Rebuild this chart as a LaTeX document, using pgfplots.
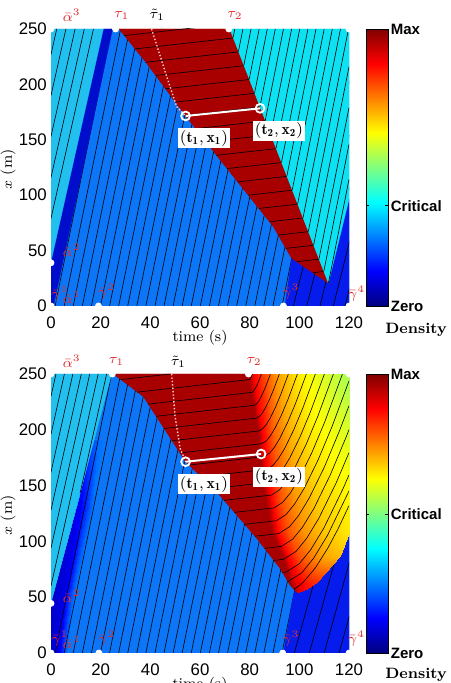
\documentclass[border=0pt]{standalone}
\usepackage{pgfplots}
\pgfplotsset{compat=1.18}
\usepackage{fontspec}
\setsansfont{Liberation Sans}
\definecolor{medblue}{RGB}{12,118,246}
\definecolor{cyanL}{RGB}{34,192,238}
\definecolor{cyanR}{RGB}{14,226,242}
\definecolor{bandblue}{RGB}{0,14,204}
\definecolor{dblue}{RGB}{6,28,236}
\definecolor{dred}{RGB}{168,0,0}
\definecolor{lblred}{RGB}{225,45,45}
\definecolor{dotpink}{RGB}{255,205,205}
\tikzset{lbl/.style={text=lblred, font=\fontsize{7}{8}\selectfont}}
\pgfplotsset{
 mainax/.style={
  scale only axis, width=149pt, anchor=south west,
  xmin=0,xmax=120,ymin=0,ymax=250,
  xtick={0,20,40,60,80,100,120}, ytick={0,50,100,150,200,250},
  axis line style={draw=none}, tick style={draw=none}, major tick length=0pt,
  /pgf/number format/assume math mode=true,
  tick label style={font=\fontsize{8.4}{9}\selectfont\sffamily},
  xticklabel style={yshift=-2pt},
  yticklabel style={xshift=1.45pt},
  clip mode=individual,
  colormap/jet, point meta min=0, point meta max=1,
  colorbar,
  xlabel={time (s)}, ylabel={$x$ (m)},
  label style={font=\fontsize{7.5}{9}\selectfont},
  xlabel style={at={(axis description cs:0.5,-0.115)}, anchor=center},
  ylabel style={at={(axis description cs:-0.144,0.493)}, anchor=center},
 },
 cbstyle/.style={width=11pt, at={(parent axis.north east)}, anchor=north west,
  xlabel={}, ylabel={}, xtick=\empty,
  yticklabels={Zero,Critical,Max},
  yticklabel style={font=\fontsize{7.5}{8}\selectfont\sffamily\bfseries, inner sep=1.2pt},
  axis line style={draw=black, line width=0.3pt},
  tick style={draw=black, line width=0.3pt}, major tick length=1.5pt},
 ch/.style={black, line width=0.3pt, unbounded coords=jump, forget plot},
 reg/.style={fill=#1, draw=#1, line width=0.1pt, forget plot},
 wdot/.style={only marks, mark=*, mark size=1.5pt, mark options={draw=white,fill=white}, forget plot},
}
\begin{document}
\begin{tikzpicture}
\useasboundingbox (0,0) rectangle (225pt,341.5pt);
% ================= TOP =================
\begin{axis}[mainax, height=138.5pt, at={(25.5pt,188.5pt)},
 colorbar style={cbstyle, ytick={0,0.362,1}}]
\addplot[reg=medblue] coordinates {(0,0)(120,0)(120,250)(0,250)} -- cycle;
\addplot[ch] coordinates {
(1.65,0)(24.38,250)(nan,nan)(5.31,0)(28.04,250)(nan,nan)(8.96,0)(31.69,250)(nan,nan)
(12.62,0)(35.35,250)(nan,nan)(16.27,0)(39.0,250)(nan,nan)(19.93,0)(42.66,250)(nan,nan)
(23.58,0)(46.31,250)(nan,nan)(27.24,0)(49.97,250)(nan,nan)(30.89,0)(53.62,250)(nan,nan)
(34.55,0)(57.28,250)(nan,nan)(38.2,0)(60.93,250)(nan,nan)(41.86,0)(64.59,250)(nan,nan)
(45.51,0)(68.24,250)(nan,nan)(49.17,0)(71.9,250)(nan,nan)(52.82,0)(75.55,250)(nan,nan)
(56.48,0)(79.21,250)(nan,nan)(60.13,0)(82.86,250)(nan,nan)(63.79,0)(86.52,250)(nan,nan)
(67.44,0)(90.17,250)(nan,nan)(71.1,0)(93.83,250)(nan,nan)(74.75,0)(97.48,250)(nan,nan)
(78.41,0)(101.14,250)(nan,nan)(82.06,0)(104.79,250)(nan,nan)(85.72,0)(108.45,250)(nan,nan)
(89.37,0)(112.1,250)(nan,nan)(93.03,0)(115.76,250)};
\addplot[reg=bandblue] coordinates {(0,0)(0,40)(21.1,250)(24.8,250)(1,0)} -- cycle;
\addplot[reg=cyanL] coordinates {(0,40)(0,250)(21.1,250)} -- cycle;
\addplot[ch] coordinates {(0,227)(2.3,250)(nan,nan)(0,190)(6,250)(nan,nan)(0,153)(9.7,250)(nan,nan)(0,116)(13.4,250)(nan,nan)(0,79)(17.1,250)};
\addplot[reg=dblue] coordinates {(94.2,0)(120,0)(120,96)(111.7,20.5)(96.9,43)} -- cycle;
\addplot[ch] coordinates {(97.6,0)(125.4,250)(nan,nan)(103,0)(130.8,250)(nan,nan)(108.3,0)(136.1,250)(nan,nan)(113.7,0)(141.5,250)(nan,nan)(118.4,0)(146.2,250)};
\addplot[reg=dred] coordinates {(27.4,250)(72,250)(111.7,20.5)(96.9,43)(89.5,71.6)(78.8,101.7)(68.1,131.8)(54.2,171.5)(38.5,219)} -- cycle;
\addplot[ch] coordinates {
(29.5,244)(73.0,254.9)(nan,nan)(33.8,232)(75.1,242.3)(nan,nan)(38.1,220)(77.2,229.8)(nan,nan)
(42.1,208)(79.3,217.3)(nan,nan)(46.1,196)(81.3,204.8)(nan,nan)(50.1,184)(83.4,192.3)(nan,nan)
(54.0,172)(85.5,179.9)(nan,nan)(58.2,160)(87.6,167.4)(nan,nan)(62.4,148)(89.6,154.8)(nan,nan)
(66.6,136)(91.7,142.3)(nan,nan)(70.9,124)(93.8,129.7)(nan,nan)(75.1,112)(95.9,117.2)(nan,nan)
(79.4,100)(98.0,104.7)(nan,nan)(83.7,88)(100.0,92.1)(nan,nan)(87.9,76)(102.1,79.6)(nan,nan)
(91.5,64)(104.2,67.2)(nan,nan)(94.6,52)(106.3,54.9)(nan,nan)(98.9,40)(108.3,42.4)(nan,nan)
(105.5,30)(110.1,31.2)};
\addplot[reg=cyanR] coordinates {(72,250)(120,250)(120,96)(111.7,20.5)} -- cycle;
\addplot[ch] coordinates {
(73.33,242.3)(74.01,250)(nan,nan)(75.49,229.8)(77.28,250)(nan,nan)(77.66,217.3)(80.55,250)(nan,nan)
(79.82,204.8)(83.82,250)(nan,nan)(81.98,192.3)(87.09,250)(nan,nan)(84.13,179.9)(90.33,250)(nan,nan)
(86.29,167.4)(93.6,250)(nan,nan)(88.47,154.8)(96.89,250)(nan,nan)(90.63,142.3)(100.16,250)(nan,nan)
(92.81,129.7)(103.46,250)(nan,nan)(94.97,117.2)(106.72,250)(nan,nan)(97.14,104.7)(110.0,250)(nan,nan)
(99.32,92.1)(113.29,250)(nan,nan)(101.48,79.6)(116.56,250)(nan,nan)(103.62,67.2)(119.8,250)(nan,nan)
(105.75,54.9)(120,215.9)(nan,nan)(107.91,42.4)(120,179.0)(nan,nan)(109.85,31.2)(120,145.9)(nan,nan)
(111.7,20.5)(120,114.3)};
\addplot[dotpink, densely dotted, line width=0.7pt, forget plot] coordinates {(40.5,250)(46.6,207)(50.6,180)(54.2,171.5)};
\addplot[white, line width=1pt, forget plot] coordinates {(54.2,171.5)(84.2,178.4)};
\addplot[only marks, mark=o, mark size=2.2pt, mark options={white, line width=0.9pt}, forget plot] coordinates {(54.2,171.5)(84.2,178.4)};
\addplot[wdot] coordinates {(0,0)(0,250)(120,250)(120,0)(0,39)(26,250)(71.6,250)(19.1,0)(93.6,0)};
\node[fill=white, inner sep=1pt, font=\fontsize{7.8}{9}\selectfont] at (axis cs:61.6,151.2) {$\mathbf{(t_1, x_1)}$};
\node[fill=white, inner sep=1pt, font=\fontsize{7.8}{9}\selectfont] at (axis cs:91.8,158) {$\mathbf{(t_2, x_2)}$};
\node[lbl] at (axis cs:8.3,262.6) {$\bar\alpha^3$};
\node[lbl] at (axis cs:28.5,262.6) {$\tau_1$};
\node[font=\fontsize{7}{8}\selectfont] at (axis cs:42.8,262.6) {$\tilde\tau_1$};
\node[lbl] at (axis cs:74.1,262.6) {$\tau_2$};
\node[lbl] at (axis cs:8.3,50.5) {$\bar\alpha^2$};
\node[lbl] at (axis cs:3.6,11.5) {$\bar\gamma^1$};
\node[lbl] at (axis cs:8.3,7.5) {$\bar\alpha^1$};
\node[lbl] at (axis cs:22.4,12.9) {$\bar\gamma^2$};
\node[lbl] at (axis cs:96.6,12.9) {$\bar\gamma^3$};
\node[lbl] at (axis cs:123.1,11.5) {$\bar\gamma^4$};
\node[font=\fontsize{7.5}{9}\selectfont\bfseries] at (axis cs:147,-21.7) {Density};
\end{axis}
% ================= BOTTOM =================
\begin{axis}[mainax, height=139.5pt, at={(25.5pt,15pt)},
 colorbar style={cbstyle, ytick={0,0.498,1}}]
\addplot[reg=medblue] coordinates {(0,0)(120,0)(120,250)(0,250)} -- cycle;
\addplot[surf, shader=interp, mesh/cols=3, mesh/rows=4, point meta=explicit, forget plot] table[x index=0, y index=1, meta index=2] {
0 0 0.08
3 0 0.10
6.5 0 0.243
0 44.5 0.07
5 44.5 0.10
9 44.5 0.243
10.3 131 0.10
13.3 131 0.15
17 131 0.243
17.5 191 0.21
19 191 0.23
21 191 0.243
};
\addplot[ch] coordinates {
(1.65,0)(24.38,250)(nan,nan)(5.31,0)(28.04,250)(nan,nan)(8.96,0)(31.69,250)(nan,nan)
(12.62,0)(35.35,250)(nan,nan)(16.27,0)(39.0,250)(nan,nan)(19.93,0)(42.66,250)(nan,nan)
(23.58,0)(46.31,250)(nan,nan)(27.24,0)(49.97,250)(nan,nan)(30.89,0)(53.62,250)(nan,nan)
(34.55,0)(57.28,250)(nan,nan)(38.2,0)(60.93,250)(nan,nan)(41.86,0)(64.59,250)(nan,nan)
(45.51,0)(68.24,250)(nan,nan)(49.17,0)(71.9,250)(nan,nan)(52.82,0)(75.55,250)(nan,nan)
(56.48,0)(79.21,250)(nan,nan)(60.13,0)(82.86,250)(nan,nan)(63.79,0)(86.52,250)(nan,nan)
(67.44,0)(90.17,250)(nan,nan)(71.1,0)(93.83,250)(nan,nan)(74.75,0)(97.48,250)(nan,nan)
(78.41,0)(101.14,250)(nan,nan)(82.06,0)(104.79,250)(nan,nan)(85.72,0)(108.45,250)(nan,nan)
(89.37,0)(112.1,250)(nan,nan)(93.03,0)(115.76,250)};
\addplot[reg=cyanL] coordinates {(0,44.5)(0,250)(24.4,250)} -- cycle;
\addplot[ch] coordinates {(0,230)(2.0,250)(nan,nan)(0,196)(5.4,250)(nan,nan)(0,162)(8.8,250)(nan,nan)(0,128)(12.2,250)(nan,nan)(0,94)(15.6,250)(nan,nan)(0,60)(19.0,250)(nan,nan)(11.7,143)(22.4,250)};
\addplot[reg=dblue] coordinates {(93.6,0)(120,0)(120,112)(100,66)(97.6,52)} -- cycle;
\addplot[ch] coordinates {(98,0)(129.25,250)(nan,nan)(104,0)(135.25,250)(nan,nan)(110,0)(141.25,250)(nan,nan)(116,0)(147.25,250)};
\addplot[reg=dred] coordinates {(25.1,250)(37.2,229.7)(54.2,171.4)(66.7,144.5)(82.8,102.8)(92.2,75.9)(96.2,60.9)(98.5,55.3)(96.8,64)(93.5,86)(89,108)(85.5,150)(83.3,200)(79.5,250)} -- cycle;
\addplot[surf, shader=interp, mesh/cols=6, mesh/rows=7, point meta=explicit, forget plot] table[x index=0, y index=1, meta index=2] {
79.5 250 0.96
81.5 250 0.875
86 250 0.80
91 250 0.72
100 250 0.64
120 250 0.54
83.3 200 0.96
85 200 0.875
89.5 200 0.78
95 200 0.71
103 200 0.65
120 200 0.585
85.5 150 0.96
87.7 150 0.875
92 150 0.79
98 150 0.72
106 150 0.67
120 150 0.625
89 108 0.96
91.2 108 0.875
96 108 0.79
102 108 0.73
110 108 0.68
120 107.5 0.645
93.5 86 0.96
95.5 86 0.875
100 86 0.80
105 86 0.75
110.5 86.3 0.71
116.3 87 0.69
96.8 64 0.95
98.5 63 0.90
100.5 62 0.88
102.5 62 0.86
104.8 62.5 0.84
107 64 0.83
98.5 55.3 0.93
99.2 54.6 0.92
100 54.8 0.90
101 55.4 0.88
102 56.2 0.87
103 57 0.86
};
\addplot[ch] coordinates {
(28.1,245)(48.1,250)(nan,nan)
(34.6,233.7)(79.93,245.0)(80.35,246.1)(81.08,250)(nan,nan)
(39.15,223.0)(80.91,233.5)(81.40,234.2)(82.32,237.2)(83.03,240.4)(83.73,244.1)(84.70,250)(nan,nan)
(42.3,212.1)(81.89,222.0)(82.73,223.2)(83.45,225.1)(84.29,228.2)(85.48,233.7)(86.68,240.0)(88.33,250)(nan,nan)
(45.5,201.2)(82.88,210.5)(84.06,212.2)(85.07,214.9)(86.25,219.3)(87.94,227.0)(89.63,236.0)(91.96,250)(nan,nan)
(48.7,190.2)(83.86,199.0)(85.38,201.2)(86.69,204.7)(88.22,210.3)(90.40,220.2)(92.58,231.9)(95.58,250)(nan,nan)
(51.9,179.3)(84.84,187.5)(86.71,190.1)(88.31,194.5)(90.18,201.4)(92.86,213.5)(95.53,227.8)(99.21,250)(nan,nan)
(55.6,168.4)(85.82,176.0)(88.04,179.1)(89.94,184.3)(92.15,192.4)(95.31,206.8)(98.48,223.7)(102.84,250)(nan,nan)
(60.4,158.0)(86.81,164.5)(89.37,168.1)(91.56,174.1)(94.12,183.4)(97.77,200.1)(101.42,219.6)(106.47,250)(nan,nan)
(65.4,147.4)(87.79,153.0)(90.69,157.1)(93.18,163.9)(96.08,174.5)(100.23,193.4)(104.37,215.5)(110.09,250)(nan,nan)
(69.7,136.8)(88.77,141.5)(92.02,146.1)(94.80,153.7)(98.05,165.5)(102.69,186.7)(107.32,211.4)(113.72,250)(nan,nan)
(73.8,126.0)(89.76,130.0)(93.35,135.1)(96.42,143.5)(100.01,156.6)(105.14,180.0)(110.27,207.3)(117.35,250)(nan,nan)
(78.0,115.3)(90.74,118.5)(94.67,124.1)(98.04,133.3)(101.98,147.6)(107.60,173.2)(113.22,203.2)(120,243.8)(nan,nan)
(82.1,104.6)(91.72,107.0)(96.00,113.1)(99.67,123.0)(103.94,138.7)(110.06,166.5)(116.17,199.1)(120,221.5)(nan,nan)
(86.0,93.8)(92.71,95.5)(97.33,102.0)(101.29,112.8)(105.91,129.7)(112.51,159.8)(119.12,195.0)(120,200.1)(nan,nan)
(89.7,83.0)(93.69,84.0)(98.65,91.0)(102.91,102.6)(107.88,120.8)(114.97,153.1)(120,179.5)(nan,nan)
(93.2,72.1)(94.67,72.5)(99.98,80.0)(104.53,92.4)(109.84,111.8)(117.43,146.4)(120,159.6)(nan,nan)
(95.4,64.0)(100.97,71.8)(105.74,84.9)(111.3,105.2)(120,145.2)(nan,nan)
(97.8,57)(99.5,59.6)(101.5,63.2)(106.5,76.4)(111.5,94.1)(115.5,110.8)(120,132)};
\addplot[dotpink, densely dotted, line width=0.7pt, forget plot] coordinates {(48.6,250)(49.9,213)(52,183.4)(54.2,171.4)};
\addplot[white, line width=1pt, forget plot] coordinates {(54.2,171.4)(84.6,178.3)};
\addplot[only marks, mark=o, mark size=2.2pt, mark options={white, line width=0.9pt}, forget plot] coordinates {(54.2,171.4)(84.6,178.3)};
\addplot[wdot] coordinates {(0,0)(0,250)(120,250)(120,0)(0,44.5)(24.7,250)(79.5,250)(19.3,0)(93.3,0)};
\node[fill=white, inner sep=1pt, font=\fontsize{7.8}{9}\selectfont] at (axis cs:61.6,151.4) {$\mathbf{(t_1, x_1)}$};
\node[fill=white, inner sep=1pt, font=\fontsize{7.8}{9}\selectfont] at (axis cs:91.8,158.1) {$\mathbf{(t_2, x_2)}$};
\node[lbl] at (axis cs:8.3,261) {$\bar\alpha^3$};
\node[lbl] at (axis cs:26.4,261) {$\tau_1$};
\node[font=\fontsize{7}{8}\selectfont] at (axis cs:51.3,261) {$\tilde\tau_1$};
\node[lbl] at (axis cs:81.8,261) {$\tau_2$};
\node[lbl] at (axis cs:8.3,50.4) {$\bar\alpha^2$};
\node[lbl] at (axis cs:3.6,13.2) {$\bar\gamma^1$};
\node[lbl] at (axis cs:8.3,10) {$\bar\alpha^1$};
\node[lbl] at (axis cs:22.4,13) {$\bar\gamma^2$};
\node[lbl] at (axis cs:96.6,13) {$\bar\gamma^3$};
\node[lbl] at (axis cs:123,13) {$\bar\gamma^4$};
\node[font=\fontsize{7.5}{9}\selectfont\bfseries] at (axis cs:147,-19.7) {Density};
\end{axis}
\end{tikzpicture}
\end{document}
